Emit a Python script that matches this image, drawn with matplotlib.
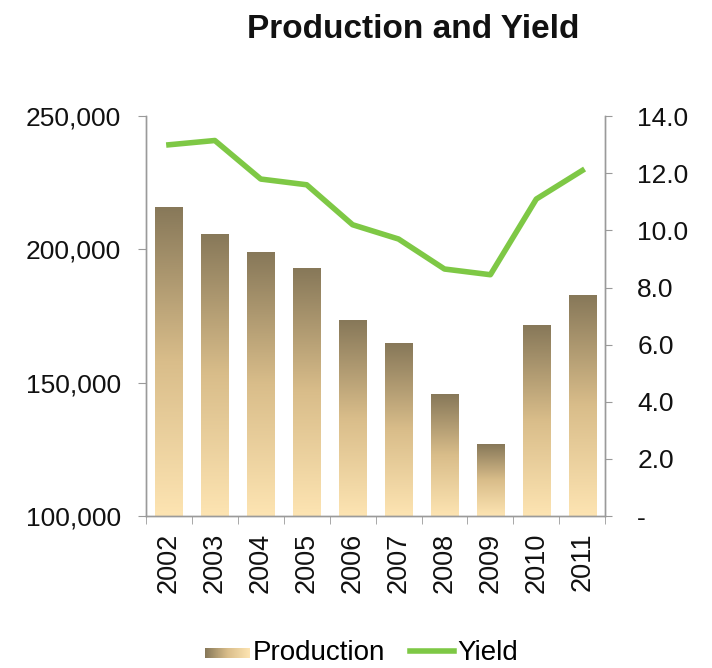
import matplotlib
matplotlib.use("Agg")
import matplotlib.pyplot as plt
import numpy as np
from matplotlib.colors import LinearSegmentedColormap
from matplotlib.patches import Patch
from matplotlib.lines import Line2D
from matplotlib.legend_handler import HandlerBase
from matplotlib.ticker import FuncFormatter, FixedLocator

years = ["2002", "2003", "2004", "2005", "2006", "2007", "2008", "2009", "2010", "2011"]
production = [216000, 206000, 199000, 193000, 173500, 164800, 145700, 127000, 171600, 182800]
yield_vals = [13.0, 13.15, 11.8, 11.6, 10.2, 9.7, 8.65, 8.45, 11.1, 12.1]

plt.rcParams['font.family'] = ['Liberation Sans', 'DejaVu Sans']

fig = plt.figure(figsize=(7.12, 6.68), dpi=100)
ax = fig.add_axes([0.205, 0.2275, 0.645, 0.5985])
ax2 = ax.twinx()

top_c = "#877859"
bot_c = "#fde4b2"
cmap = LinearSegmentedColormap.from_list("g", [bot_c, "#d9bd8a", top_c])

x = np.arange(len(years))
width = 0.59
bars = ax.bar(x, np.array(production) - 100000, width, bottom=100000,
              facecolor="none", edgecolor="none", zorder=2)
grad = np.linspace(0, 1, 256).reshape(-1, 1)
for b in bars:
    x0, y0 = b.get_x(), b.get_y()
    w, h = b.get_width(), b.get_height()
    im = ax.imshow(grad, cmap=cmap, origin="lower", aspect="auto",
                   extent=[x0, x0 + w, y0, y0 + h], zorder=2)
    im.set_clip_path(b)

ax.set_xlim(-0.5, len(years) - 0.5)
ax.set_ylim(100000, 250000)
ax2.set_ylim(0, 14)

ax2.plot(x, yield_vals, color="#7ec845", lw=4.0, solid_joinstyle="round", zorder=3)

gray = "#9a9a9a"
for a in (ax, ax2):
    a.spines["top"].set_visible(False)
    for s in ("left", "right", "bottom"):
        a.spines[s].set_color(gray)
        a.spines[s].set_linewidth(1.0)

ax.set_yticks([100000, 150000, 200000, 250000])
ax.yaxis.set_major_formatter(FuncFormatter(lambda v, p: f"{int(v):,}"))
ax2.set_yticks(np.arange(0, 15, 2))
ax2.yaxis.set_major_formatter(FuncFormatter(lambda v, p: "-" if v == 0 else f"{v:.1f}"))

ax.tick_params(axis="y", labelsize=19, colors=gray, labelcolor="#111111", length=6, pad=12)
ax2.tick_params(axis="y", labelsize=19, colors=gray, labelcolor="#111111", length=5, pad=18)

ax.set_xticks(x)
ax.set_xticklabels(years, rotation=90, fontsize=19.5, color="#111111")
ax.tick_params(axis="x", length=0, pad=12)
ax.xaxis.set_minor_locator(FixedLocator(np.arange(-0.5, len(years), 1.0)))
ax.tick_params(axis="x", which="minor", length=6, color=gray)

fig.text(0.581, 0.956, "Production and Yield", ha="center", va="center",
         fontsize=24, fontweight="bold", color="#111111")


class GradHandler(HandlerBase):
    def create_artists(self, legend, orig_handle, xdescent, ydescent, width, height, fontsize, trans):
        from matplotlib.image import BboxImage
        from matplotlib.transforms import Bbox, TransformedBbox
        g = np.linspace(0, 1, 64).reshape(1, -1)
        bb = Bbox.from_bounds(xdescent, ydescent + height * 0.1, width, height * 0.5)
        tbb = TransformedBbox(bb, trans)
        img = BboxImage(tbb, cmap=LinearSegmentedColormap.from_list("h", [top_c, "#d9bd8a", bot_c]))
        img.set_data(g)
        return [img]


h1 = Patch(facecolor=top_c, label="Production")
h2 = Line2D([0], [0], color="#7ec845", lw=4.0, label="Yield")
fig.legend([h1, h2], ["Production", "Yield"], loc="center", bbox_to_anchor=(0.508, 0.022),
           ncol=2, frameon=False, fontsize=20, handlelength=1.6, handletextpad=0.12,
           columnspacing=0.9, borderpad=0.1, handler_map={Patch: GradHandler()})

fig.savefig("out.png", dpi=100)
